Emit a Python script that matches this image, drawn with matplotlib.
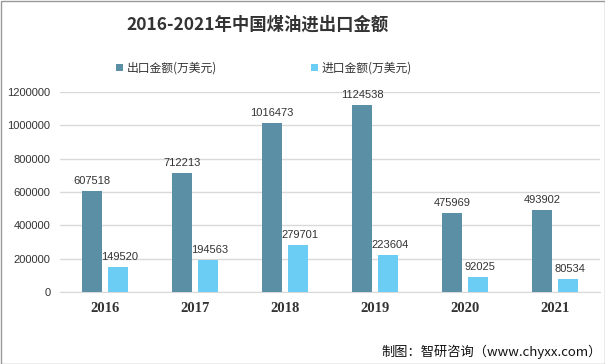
import matplotlib
matplotlib.use("Agg")
import matplotlib.pyplot as plt
import numpy as np
from matplotlib.patches import Rectangle

plt.rcParams['font.family'] = ['Noto Sans CJK SC', 'DejaVu Sans']

years = ['2016', '2017', '2018', '2019', '2020', '2021']
export_vals = [607518, 712213, 1016473, 1124538, 475969, 493902]
import_vals = [149520, 194563, 279701, 223604, 92025, 80534]
yticks = [0, 200000, 400000, 600000, 800000, 1000000, 1200000]
series_names = ['出口金额(万美元)', '进口金额(万美元)']
c_exp = '#5B8FA6'
c_imp = '#6CCDF4'
num_font = ['Liberation Sans', 'DejaVu Sans']

fig = plt.figure(figsize=(6.05, 3.64), dpi=100)
ax = fig.add_axes([60/605, 1-292/364, 540/605, 200/364])

x = np.arange(len(years))
w = 0.22
off = 0.145
b1 = ax.bar(x - off, export_vals, w, color=c_exp, label=series_names[0], zorder=3)
b2 = ax.bar(x + off, import_vals, w, color=c_imp, label=series_names[1], zorder=3)

for xi, v in zip(x - off, export_vals):
    ax.text(xi, v + 30000, str(v), ha='center', va='bottom', fontsize=8, color='#333333', family=num_font)
for xi, v in zip(x + off, import_vals):
    ax.text(xi + 0.02, v + 30000, str(v), ha='center', va='bottom', fontsize=8, color='#333333', family=num_font)

ax.set_xlim(-0.5, 5.5)
ax.set_ylim(0, 1200000)
ax.set_yticks(yticks)
ax.set_yticklabels([str(t) for t in yticks], fontsize=8, color='#333333', family=num_font)
ax.set_xticks(x)
ax.set_xticklabels(years, fontsize=10.5, fontweight='bold', color='#333333', family=['Liberation Serif', 'DejaVu Serif'])
ax.tick_params(axis='both', length=0)
ax.tick_params(axis='x', pad=7)
ax.tick_params(axis='y', pad=7)
ax.grid(axis='y', color='#d9d9d9', linewidth=1, zorder=0)
for s in ['top', 'right', 'left']:
    ax.spines[s].set_visible(False)
ax.spines['bottom'].set_color('#d9d9d9')

fig.text(258/605, 1-25/364, '2016-2021年中国煤油进出口金额', ha='center', va='center',
         fontsize=12.5, fontweight='bold', color='#333333')

leg = fig.legend(handles=[b1, b2], labels=series_names, loc='center', bbox_to_anchor=(264/605, 1-68/364),
                 ncol=2, frameon=False, fontsize=8.5, handlelength=0.6, handleheight=0.6,
                 columnspacing=8, handletextpad=0.3)
for t in leg.get_texts():
    t.set_color('#333333')

fig.text(602/605, 1-352/364, '制图：智研咨询（www.chyxx.com）', ha='right', va='center', fontsize=9.5, color='#111111')

fig.patches.append(Rectangle((0.5/605, 0.5/364), 1-1/605, 1-1/364, transform=fig.transFigure,
                             fill=False, edgecolor='#999999', linewidth=1))

fig.savefig('out.png', dpi=100)
